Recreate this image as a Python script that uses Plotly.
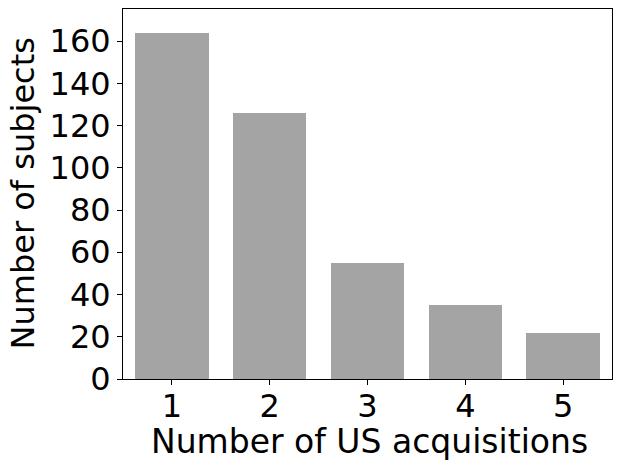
import plotly.graph_objects as go

# Verteilung der Anzahl US-Akquisitionen je Proband
acquisitions = [1, 2, 3, 4, 5]
subjects = [164, 126, 55, 35, 22]
y_ticks = [0, 20, 40, 60, 80, 100, 120, 140, 160]

FONT = "DejaVu Sans"
W, H = 628, 470
OFF = 8  # Body-Rand der HTML-Seite
L, R, T, B = 123 - OFF, 16 + OFF, 9 - OFF, 91 + OFF

fig = go.Figure()
fig.add_trace(
    go.Bar(
        x=acquisitions,
        y=subjects,
        width=0.75,
        marker=dict(color="#a4a4a4", line=dict(width=0)),
    )
)

axis_style = dict(
    automargin=False,
    showline=True,
    linecolor="black",
    linewidth=1,
    mirror=True,
    ticks="outside",
    ticklen=5,
    tickwidth=1,
    tickcolor="black",
    showgrid=False,
    zeroline=False,
    tickfont=dict(family=FONT, size=32, color="black"),
)

fig.update_layout(
    width=W,
    height=H,
    margin=dict(l=L, r=R, t=T, b=B),
    plot_bgcolor="white",
    paper_bgcolor="white",
    showlegend=False,
    bargap=0,
    xaxis=dict(**axis_style, range=[0.5, 5.5], tickvals=acquisitions,
               ticklabelstandoff=-6),
    yaxis=dict(**axis_style, range=[0, 175.2], tickvals=y_ticks),
)

# Achsentitel als Annotationen, damit die Position genau passt
plot_w = W - L - R
plot_h = H - T - B
fig.add_annotation(
    text="Number of US acquisitions",
    xref="paper", yref="paper",
    x=(369.5 - OFF - L) / plot_w, y=0,
    xanchor="center", yanchor="middle",
    yshift=-(441 - OFF - (H - B)),
    showarrow=False,
    font=dict(family=FONT, size=33, color="black"),
)
fig.add_annotation(
    text="Number of subjects",
    xref="paper", yref="paper",
    x=0, y=(H - B - (194 - OFF)) / plot_h,
    xanchor="center", yanchor="middle",
    xshift=-(L - (22.5 - OFF)),
    textangle=-90,
    showarrow=False,
    font=dict(family=FONT, size=32, color="black"),
)

fig.write_html("out.html")
